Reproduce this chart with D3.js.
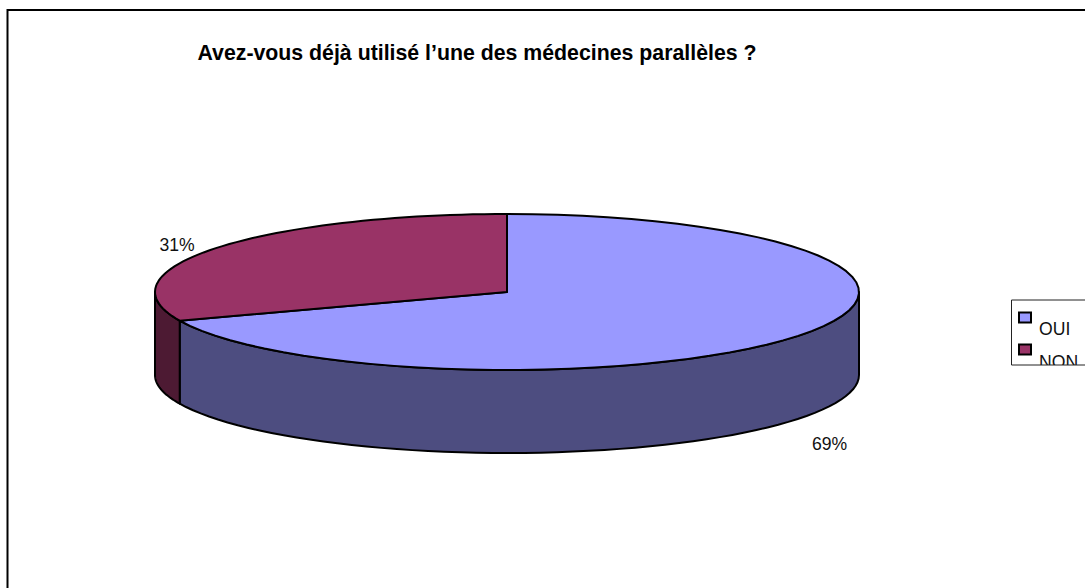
<!DOCTYPE html>
<html><head><meta charset="utf-8">
<script src="https://cdn.jsdelivr.net/npm/d3@7"></script>
<style>html,body{margin:0;background:#fff}svg{display:block}text{font-family:"Liberation Sans",Arial,sans-serif;fill:#111}</style>
</head><body><svg id="c" width="1085" height="588"></svg>
<script>
const categories=["OUI","NON"];
const seriesValues=[69,31];
const topColors=["#9999FF","#993366"];
const wallColors=["#4D4D80","#4D1A33"];
const title="Avez-vous déjà utilisé l’une des médecines parallèles ?";
const svg=d3.select("#c");

// frame: top and left only reach the picture, the rest is cropped away
svg.append("path").attr("d","M7.5,588V10H1085").attr("fill","none").attr("stroke","#000").attr("stroke-width",2);

svg.append("text").attr("x",477).attr("y",60).attr("text-anchor","middle")
  .attr("font-weight","bold").attr("font-size",21.3).style("fill","#000").text(title);

const cx=507,cy=292,rx=352,ry=78,depth=83;
const X=d3.scaleLinear().domain([-1,1]).range([cx-rx,cx+rx]);
const Y=d3.scaleLinear().domain([-1,1]).range([cy-ry,cy+ry]);
const arcs=d3.pie().sort(null).value(d=>d)(seriesValues);
const line=d3.line();
const rim=(a0,a1,dz=0)=>d3.range(0,61).map(i=>{
  const a=a0+(a1-a0)*i/60;
  return [X(Math.sin(a)),Y(-Math.cos(a))+dz];
});
const stroke={stroke:"#000","stroke-width":2,"stroke-linejoin":"round"};
const applyStroke=s=>{for(const k in stroke)s.attr(k,stroke[k]);return s;};

// outer walls: only the part of each slice on the front half of the ellipse
arcs.forEach((d,i)=>{
  const a0=Math.max(d.startAngle,Math.PI/2),a1=Math.min(d.endAngle,3*Math.PI/2);
  if(a1<=a0)return;
  const pts=rim(a0,a1).concat(rim(a0,a1,depth).reverse());
  applyStroke(svg.append("path")).attr("d",line(pts)+"Z").attr("fill",wallColors[i]);
});
// top faces
arcs.forEach((d,i)=>{
  const pts=[[cx,cy]].concat(rim(d.startAngle,d.endAngle));
  applyStroke(svg.append("path")).attr("d",line(pts)+"Z").attr("fill",topColors[i]);
});

// data labels
const labelAnchors=[[829.5,450],[177,251]];
arcs.forEach((d,i)=>{
  svg.append("text").attr("x",labelAnchors[i][0]).attr("y",labelAnchors[i][1])
    .attr("text-anchor","middle").attr("font-size",17.6).text(seriesValues[i]+"%");
});

// legend, clipped on its box like the reference
const defs=svg.append("defs");
defs.append("clipPath").attr("id","lg").append("rect").attr("x",1011).attr("y",300).attr("width",74).attr("height",65);
const lg=svg.append("g").attr("clip-path","url(#lg)");
const legY=d3.scalePoint().domain(categories).range([0,33]);
categories.forEach((c,i)=>{
  lg.append("rect").attr("x",1019).attr("y",312.5+legY(c)-(i?1:0)).attr("width",12).attr("height",10)
    .attr("fill",topColors[i]).attr("stroke","#000").attr("stroke-width",2);
  lg.append("text").attr("x",1039).attr("y",334.5+legY(c)).attr("font-size",17.6).text(c);
});
svg.append("path").attr("d","M1085,300H1011.5V365H1085").attr("fill","none").attr("stroke","#222").attr("stroke-width",1);
</script></body></html>
